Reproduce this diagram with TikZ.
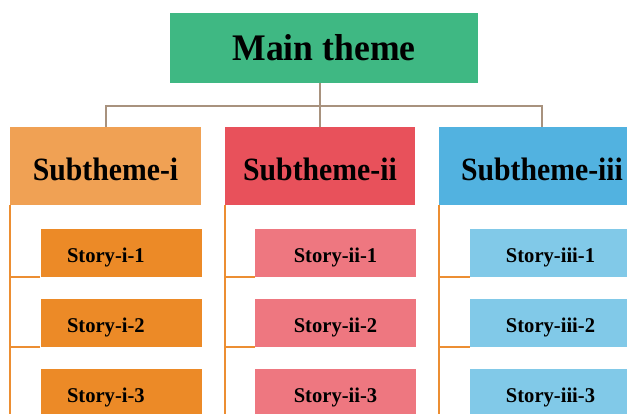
\documentclass[tikz,border=0pt]{standalone}
\usepackage{fontspec}
\setmainfont{Liberation Serif}
\usepackage{xcolor}
\definecolor{maingreen}{HTML}{3FB883}
\definecolor{subone}{HTML}{F0A154}
\definecolor{storyone}{HTML}{EC8A27}
\definecolor{subtwo}{HTML}{E8515B}
\definecolor{storytwo}{HTML}{EE7780}
\definecolor{subthree}{HTML}{52B2E0}
\definecolor{storythree}{HTML}{81C9E8}
\definecolor{trunk}{HTML}{A8927E}
\definecolor{branch}{HTML}{EC8E32}
\tikzset{
    % boxes
    mainbox/.style={fill=maingreen, minimum width=308pt, minimum height=70pt, inner sep=0pt, text height=24pt, text depth=0pt,
        font=\fontsize{37.5}{40}\selectfont\bfseries\addfontfeature{FakeStretch=0.95}},
    subbox/.style={minimum height=78pt, inner sep=0pt, text height=28pt, text depth=0pt,
        font=\fontsize{32.5}{36}\selectfont\bfseries\addfontfeature{FakeStretch=0.915}},
    storybox/.style={minimum height=48pt, minimum width=161pt, inner sep=0pt, text height=18pt, text depth=0pt,
        font=\fontsize{21}{24}\selectfont\bfseries\addfontfeature{FakeStretch=0.98}},
    % lines
    trunkline/.style={draw=trunk, line width=2pt},
    branchline/.style={draw=branch, line width=2pt}
}
\begin{document}
\begin{tikzpicture}[x=1pt, y=-1pt]
    \useasboundingbox (0,0) rectangle (627,413);
    \clip (0,0) rectangle (627,413);
 % themes
    \node (M) at (324,48) [mainbox] {Main theme};
    \node (S1) at (105.5,166) [subbox, minimum width=191pt, fill=subone] {Subtheme-i};
    \node (S2) at (320,166) [subbox, minimum width=190pt, fill=subtwo] {Subtheme-ii};
    \node (S3) at (542,166) [subbox, minimum width=206pt, fill=subthree] {Subtheme-iii};

 % stories
    \node (T11) at (121,253) [storybox, fill=storyone, text width=108pt, inner xsep=26pt, align=left] {Story-i-1};
    \node (T12) at (121,323) [storybox, fill=storyone, text width=108pt, inner xsep=26pt, align=left] {Story-i-2};
    \node (T13) at (121,393) [storybox, fill=storyone, text width=108pt, inner xsep=26pt, align=left] {Story-i-3};
    \node (T21) at (335.5,253) [storybox, fill=storytwo] {Story-ii-1};
    \node (T22) at (335.5,323) [storybox, fill=storytwo] {Story-ii-2};
    \node (T23) at (335.5,393) [storybox, fill=storytwo] {Story-ii-3};
    \node (T31) at (550.5,253) [storybox, fill=storythree] {Story-iii-1};
    \node (T32) at (550.5,323) [storybox, fill=storythree] {Story-iii-2};
    \node (T33) at (550.5,393) [storybox, fill=storythree] {Story-iii-3};

    % LINES
    \coordinate (H) at (320,106);
    \draw[trunkline] (M.south -| S2.north) -- (S2.north);
    \draw[trunkline] (S1.north) |- (H) -| (S3.north);
    \foreach \s/\a/\b/\c in {S1/T11/T12/T13, S2/T21/T22/T23, S3/T31/T32/T33} {
        \draw[branchline] (\s.south west) -- (\s.south west |- \c.south);
        \draw[branchline] (\s.south west |- \a.south west) -- (\a.south west);
        \draw[branchline] (\s.south west |- \b.south west) -- (\b.south west);
    }
\end{tikzpicture}
\end{document}
